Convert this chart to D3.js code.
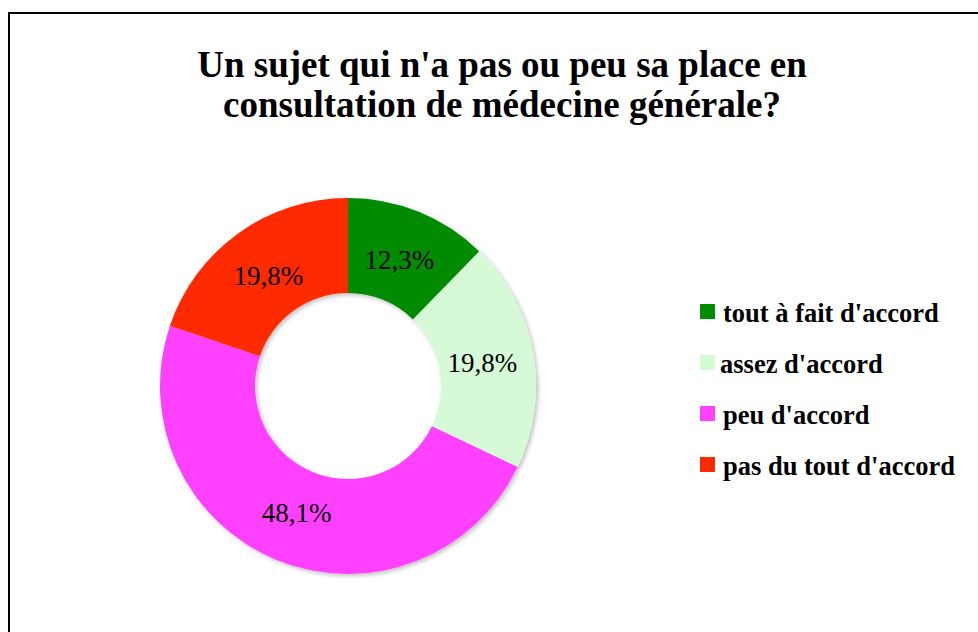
<!DOCTYPE html>
<html>
<head>
<meta charset="utf-8">
<script src="https://d3js.org/d3.v7.min.js"></script>
<style>
    body { margin: 0; background: #fff; }
    svg { display: block; }
    .title { font-family: "Liberation Serif", "Times New Roman", serif; font-weight: bold; font-size: 37px; }
    .pct { font-family: "Liberation Serif", serif; font-size: 27px; }
    .legend text { font-family: "Liberation Serif", "Times New Roman", serif; font-weight: bold; font-size: 26.5px; }
</style>
</head>
<body>
<div id="chart"></div>
<script>
    // data
    var categories = ["tout à fait d'accord", "assez d'accord", "peu d'accord", "pas du tout d'accord"];
    var values = [12.3, 19.8, 48.1, 19.8];
    var labels = ["12,3%", "19,8%", "48,1%", "19,8%"];
    var colors = ["#008b00", "#d5fad5", "#ff40ff", "#ff2a00"];
    var titleLines = ["Un sujet qui n'a pas ou peu sa place en", "consultation de médecine générale?"];

    var width = 978, height = 632;
    var svg = d3.select("#chart").append("svg")
        .attr("width", width)
        .attr("height", height);

    // outer frame (runs off the right and bottom edge)
    svg.append("rect")
        .attr("x", 9).attr("y", 13)
        .attr("width", 980).attr("height", 640)
        .attr("fill", "#fff")
        .attr("stroke", "#000")
        .attr("stroke-width", 2);

    svg.selectAll(".title")
        .data(titleLines)
        .enter().append("text")
        .attr("class", "title")
        .attr("x", 502)
        .attr("y", function (d, i) { return 77 + i * 40; })
        .attr("text-anchor", "middle")
        .text(function (d) { return d; });

    // soft shadow under the ring
    var defs = svg.append("defs");
    var f = defs.append("filter").attr("id", "shadow")
        .attr("x", "-10%").attr("y", "-10%").attr("width", "125%").attr("height", "125%");
    f.append("feDropShadow").attr("dx", 2).attr("dy", 2).attr("stdDeviation", 2)
        .attr("flood-color", "#000").attr("flood-opacity", 0.25);

    var cx = 348, cy = 386, rOut = 188, rIn = 93;
    var pie = d3.pie().sort(null).value(function (d) { return d; });
    var arc = d3.arc().innerRadius(rIn).outerRadius(rOut);
    var labelArc = d3.arc().innerRadius(rIn).outerRadius(rOut - 8);

    var g = svg.append("g").attr("transform", "translate(" + cx + "," + cy + ")");
    var arcs = pie(values);

    g.append("g").attr("filter", "url(#shadow)")
        .selectAll("path")
        .data(arcs)
        .enter().append("path")
        .attr("d", arc)
        .attr("fill", function (d, i) { return colors[i]; });

    g.selectAll(".pct")
        .data(arcs)
        .enter().append("text")
        .attr("class", "pct")
        .attr("transform", function (d) { return "translate(" + labelArc.centroid(d) + ")"; })
        .attr("text-anchor", "middle")
        .attr("dy", "0.35em")
        .text(function (d, i) { return labels[i]; });

    // legend
    var legend = svg.append("g").attr("class", "legend");
    var item = legend.selectAll("g")
        .data(categories)
        .enter().append("g")
        .attr("transform", function (d, i) { return "translate(700," + (304 + i * 51) + ")"; });

    item.append("rect")
        .attr("width", 15).attr("height", 15)
        .attr("fill", function (d, i) { return colors[i]; });

    item.append("text")
        .attr("x", function (d, i) { return i == 1 ? 20 : 23; })
        .attr("y", 18)
        .text(function (d) { return d; });
</script>
</body>
</html>
